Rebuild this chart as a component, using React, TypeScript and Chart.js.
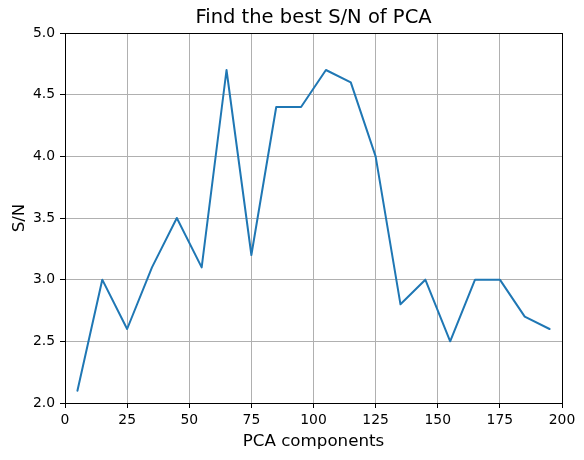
import React, { useEffect, useRef } from "react";
import { Chart, registerables } from "chart.js";

Chart.register(...registerables);

const components = [5, 15, 25, 35, 45, 55, 65, 75, 85, 95, 105, 115, 125, 135, 145, 155, 165, 175, 185, 195];
const snValues = [2.1, 3.0, 2.6, 3.1, 3.5, 3.1, 4.7, 3.2, 4.4, 4.4, 4.7, 4.6, 4.0, 2.8, 3.0, 2.5, 3.0, 3.0, 2.7, 2.6];
const xTicks = [0, 25, 50, 75, 100, 125, 150, 175, 200];
const yTicks = [2.0, 2.5, 3.0, 3.5, 4.0, 4.5, 5.0];
const titleText = "Find the best S/N of PCA";
const xLabel = "PCA components";
const yLabel = "S/N";

const FONT = "'DejaVu Sans', sans-serif";

export default function App() {
  const ref = useRef<HTMLCanvasElement | null>(null);

  useEffect(() => {
    document.body.style.margin = "0";
    const canvas = ref.current;
    if (!canvas) return;

    const framePlugin = {
      id: "frame",
      afterDraw(chart: any) {
        const { ctx, chartArea } = chart;
        ctx.save();
        ctx.strokeStyle = "#000";
        ctx.lineWidth = 1;
        ctx.strokeRect(
          Math.round(chartArea.left) + 0.5,
          Math.round(chartArea.top) + 0.5,
          Math.round(chartArea.right - chartArea.left),
          Math.round(chartArea.bottom - chartArea.top)
        );
        ctx.fillStyle = "#000";
        ctx.font = `19.5px ${FONT}`;
        ctx.textAlign = "center";
        ctx.textBaseline = "middle";
        ctx.fillText(titleText, (chartArea.left + chartArea.right) / 2, chartArea.top - 15);
        ctx.restore();
      },
    };

    const chart = new Chart(canvas, {
      type: "line",
      data: {
        datasets: [
          {
            data: components.map((x, i) => ({ x, y: snValues[i] })),
            borderColor: "#1f77b4",
            backgroundColor: "#1f77b4",
            borderWidth: 2,
            pointRadius: 0,
            tension: 0,
            fill: false,
            borderJoinStyle: "round",
            borderCapStyle: "round",
          },
        ],
      },
      options: {
        responsive: false,
        animation: false,
        layout: { padding: { top: 33, right: 22, left: 0, bottom: 0 } },
        plugins: {
          legend: { display: false },
          tooltip: { enabled: false },
          title: { display: false },
        },
        scales: {
          x: {
            type: "linear",
            min: 0,
            max: 200,
            afterBuildTicks: (scale: any) => {
              scale.ticks = xTicks.map((v) => ({ value: v }));
            },
            afterFit: (scale: any) => {
              scale.height = 57;
            },
            ticks: {
              color: "#000",
              font: { family: FONT, size: 13.9 },
              padding: 4,
              maxRotation: 0,
              autoSkip: false,
              callback: (v: any) => String(v),
            },
            grid: {
              color: "#b0b0b0",
              lineWidth: 1,
              tickLength: 5,
              tickColor: "#000",
            },
            border: { color: "#000", width: 1 },
            title: {
              display: true,
              text: xLabel,
              color: "#000",
              font: { family: FONT, size: 16.7 },
              padding: { top: 0, bottom: 8 },
            },
          },
          y: {
            type: "linear",
            min: 2,
            max: 5,
            afterBuildTicks: (scale: any) => {
              scale.ticks = yTicks.map((v) => ({ value: v }));
            },
            afterFit: (scale: any) => {
              scale.width = 65;
            },
            ticks: {
              color: "#000",
              font: { family: FONT, size: 13.9 },
              padding: 5,
              autoSkip: false,
              callback: (v: any) => Number(v).toFixed(1),
            },
            grid: {
              color: "#b0b0b0",
              lineWidth: 1,
              tickLength: 5,
              tickColor: "#000",
            },
            border: { color: "#000", width: 1 },
            title: {
              display: true,
              text: yLabel,
              color: "#000",
              font: { family: FONT, size: 16.7 },
              padding: { top: 10, bottom: 0 },
            },
          },
        },
      },
      plugins: [framePlugin],
    });

    return () => chart.destroy();
  }, []);

  return (
    <div style={{ width: 584, height: 460 }}>
      <canvas ref={ref} width={584} height={460} style={{ display: "block" }} />
    </div>
  );
}
